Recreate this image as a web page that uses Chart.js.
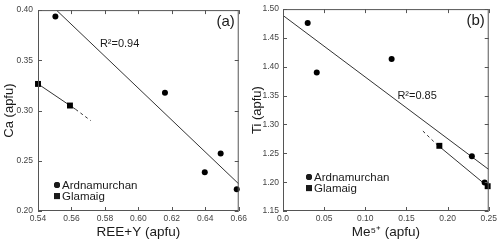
<!DOCTYPE html>
<html>
<head>
<meta charset="utf-8">
<script src="https://cdn.jsdelivr.net/npm/chart.js@4"></script>
<style>
  html, body { margin: 0; padding: 0; background: #fff; }
  .wrap { display: flex; width: 500px; height: 245px; }
  .cell { width: 250px; height: 245px; }
</style>
</head>
<body>
<div class="wrap">
  <div class="cell"><canvas id="chartA" width="250" height="245"></canvas></div>
  <div class="cell"><canvas id="chartB" width="250" height="245"></canvas></div>
</div>
<script>
// panel (a): Ca vs REE+Y
const ardREE = [0.5504, 0.6159, 0.6397, 0.6492, 0.6588];
const ardCa = [0.3937, 0.3176, 0.2385, 0.2573, 0.2217];
const glaREE = [0.5400, 0.5591];
const glaCa = [0.3265, 0.3050];
const fitREE = [0.551, 0.660];
const fitCa = [0.400, 0.227];
const glaFitREE = [0.540, 0.5625];
const glaFitCa = [0.3265, 0.3012];
const glaDashREE = [0.5625, 0.5715];
const glaDashCa = [0.3012, 0.2900];
const xTicksA = [0.54, 0.56, 0.58, 0.60, 0.62, 0.64, 0.66];
const yTicksA = [0.20, 0.25, 0.30, 0.35, 0.40];

// panel (b): Ti vs Me5+
const ardMe = [0.030, 0.041, 0.132, 0.2295, 0.245];
const ardTi = [1.476, 1.390, 1.4136, 1.245, 1.1995];
const glaMe = [0.190, 0.2487];
const glaTi = [1.263, 1.193];
const fitMe = [0.0, 0.25];
const fitTi = [1.489, 1.222];
const glaFitMe = [0.186, 0.25];
const glaFitTi = [1.2665, 1.191];
const glaDashMe = [0.170, 0.186];
const glaDashTi = [1.2886, 1.2665];
const xTicksB = [0.0, 0.05, 0.10, 0.15, 0.20, 0.25];
const yTicksB = [1.15, 1.20, 1.25, 1.30, 1.35, 1.40, 1.45, 1.50];

const FONT = "'Liberation Sans', Arial, Helvetica, sans-serif";
const INK = '#1a1a1a';

const pts = (xs, ys) => xs.map((x, i) => ({ x: x, y: ys[i] }));

// box, inward ticks, legend and text labels
const framePlugin = {
  id: 'frame',
  afterDraw(chart, args, opts) {
    const ctx = chart.ctx;
    const a = chart.chartArea;
    const xs = chart.scales.x, ys = chart.scales.y;
    ctx.save();
    ctx.strokeStyle = '#555';
    ctx.lineWidth = 1;
    ctx.strokeRect(a.left + 0.5, a.top + 0.5, a.right - a.left - 1, a.bottom - a.top - 1);
    ctx.beginPath();
    xs.ticks.forEach(t => {
      const px = Math.round(xs.getPixelForValue(t.value)) + 0.5;
      ctx.moveTo(px, a.bottom); ctx.lineTo(px, a.bottom - 4);
      ctx.moveTo(px, a.top); ctx.lineTo(px, a.top + 4);
    });
    ys.ticks.forEach(t => {
      const py = Math.round(ys.getPixelForValue(t.value)) + 0.5;
      ctx.moveTo(a.left, py); ctx.lineTo(a.left + 4, py);
      ctx.moveTo(a.right, py); ctx.lineTo(a.right - 4, py);
    });
    ctx.stroke();

    // legend
    const lg = opts.legend;
    ctx.fillStyle = INK;
    ctx.font = '11.5px ' + FONT;
    ctx.textBaseline = 'middle';
    ctx.textAlign = 'left';
    lg.items.forEach((idx, i) => {
      const ds = chart.data.datasets[idx];
      const mx = a.left + lg.dx, my = a.top + lg.dy + i * lg.gap;
      Chart.helpers.drawPoint(ctx, {
        pointStyle: ds.pointStyle, radius: ds.pointRadius, rotation: 0, borderWidth: 0
      }, mx, my);
      ctx.fill();
      ctx.fillText(ds.label, mx + 5, my + 0.5);
    });

    // panel letter
    ctx.font = '15px ' + FONT;
    ctx.textAlign = 'right';
    ctx.fillText(opts.letter, a.right - 4, a.top + 12);

    // r squared
    ctx.font = '11px ' + FONT;
    ctx.textAlign = 'left';
    ctx.fillText(opts.r2.text, xs.getPixelForValue(opts.r2.x), ys.getPixelForValue(opts.r2.y));
    ctx.restore();
  }
};

function makePanel(id, cfg) {
  const lineDs = (data, dash) => ({
    type: 'line', data: data, borderColor: '#333', borderWidth: 1,
    borderDash: dash || [], pointRadius: 0, fill: false, tension: 0
  });
  return new Chart(document.getElementById(id), {
    type: 'scatter',
    data: {
      datasets: [
        { label: 'Ardnamurchan', data: cfg.ard, pointStyle: 'circle', pointRadius: 3,
          backgroundColor: '#000', borderWidth: 0, clip: false },
        { label: 'Glamaig', data: cfg.gla, pointStyle: 'rect', pointRadius: 4.2,
          backgroundColor: '#000', borderWidth: 0, clip: false },
        lineDs(cfg.fit),
        lineDs(cfg.glaFit),
        lineDs(cfg.glaDash, [3, 3])
      ]
    },
    options: {
      responsive: false,
      animation: false,
      layout: { padding: { top: 8, right: cfg.padRight, left: 0, bottom: 0 } },
      plugins: {
        legend: { display: false },
        tooltip: { enabled: false },
        frame: { legend: cfg.legend, letter: cfg.letter, r2: cfg.r2 }
      },
      scales: {
        x: {
          type: 'linear', min: cfg.xTicks[0], max: cfg.xTicks[cfg.xTicks.length - 1],
          grid: { display: false, drawTicks: false }, border: { display: false },
          afterBuildTicks: s => { s.ticks = cfg.xTicks.map(v => ({ value: v })); },
          afterFit: s => { s.height = 34; },
          ticks: { color: '#444', font: { size: 8.5, family: FONT }, padding: 3,
                   maxRotation: 0, autoSkip: false, callback: cfg.xFmt },
          title: { display: true, text: cfg.xTitle, color: INK,
                   font: { size: 13.5, family: FONT }, padding: { top: 2, bottom: 5 } }
        },
        y: {
          type: 'linear', min: cfg.yTicks[0], max: cfg.yTicks[cfg.yTicks.length - 1],
          grid: { display: false, drawTicks: false }, border: { display: false },
          afterBuildTicks: s => { s.ticks = cfg.yTicks.map(v => ({ value: v })); },
          afterFit: s => { s.width = cfg.yWidth; },
          ticks: { color: '#444', font: { size: 8.5, family: FONT }, padding: cfg.yPad,
                   autoSkip: false, callback: v => v.toFixed(2) },
          title: { display: true, text: cfg.yTitle, color: INK,
                   font: { size: 13, family: FONT }, padding: { top: cfg.yTitlePad, bottom: 0 } }
        }
      }
    },
    plugins: [framePlugin]
  });
}

makePanel('chartA', {
  ard: pts(ardREE, ardCa), gla: pts(glaREE, glaCa),
  fit: pts(fitREE, fitCa), glaFit: pts(glaFitREE, glaFitCa), glaDash: pts(glaDashREE, glaDashCa),
  xTicks: xTicksA, yTicks: yTicksA, xFmt: v => v.toFixed(2),
  xTitle: 'REE+Y (apfu)', yTitle: 'Ca (apfu)',
  yWidth: 38, padRight: 9, yPad: 5, yTitlePad: 2,
  legend: { items: [0, 1], dx: 19, dy: 175, gap: 11 },
  letter: '(a)', r2: { text: 'R²=0.94', x: 0.577, y: 0.366 }
});

makePanel('chartB', {
  ard: pts(ardMe, ardTi), gla: pts(glaMe, glaTi),
  fit: pts(fitMe, fitTi), glaFit: pts(glaFitMe, glaFitTi), glaDash: pts(glaDashMe, glaDashTi),
  xTicks: xTicksB, yTicks: yTicksB, xFmt: v => (v === 0 ? '0.0' : v.toFixed(2)),
  xTitle: 'Me⁵⁺ (apfu)', yTitle: 'Ti (apfu)',
  yWidth: 33, padRight: 11, yPad: 4, yTitlePad: 0,
  legend: { items: [0, 1], dx: 26, dy: 168, gap: 11 },
  letter: '(b)', r2: { text: 'R²=0.85', x: 0.139, y: 1.350 }
});
</script>
</body>
</html>
